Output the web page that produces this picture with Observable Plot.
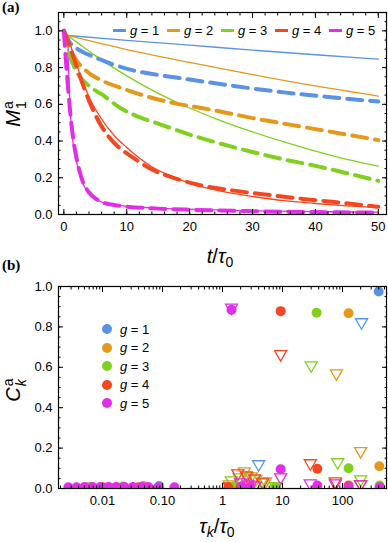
<!DOCTYPE html>
<html><head><meta charset="utf-8">
<script src="https://cdn.jsdelivr.net/npm/d3@7"></script>
<script src="https://cdn.jsdelivr.net/npm/@observablehq/plot@0.6"></script>
<style>
body{margin:0;background:#fff;font-family:"Liberation Sans",Arial,sans-serif;color:#000;}
#wrap{position:relative;width:388px;height:542px;overflow:hidden;background:#fff;}
.abs{position:absolute;white-space:nowrap;line-height:1;}
.panel{font-family:"Liberation Serif","DejaVu Serif",serif;font-weight:bold;font-size:15px;}
.lab{font-size:20px;}
.leg{font-size:13px;}
</style></head><body><div id="wrap"></div>
<script>
// ---------- shared ----------
const groups = ["1", "2", "3", "4", "5"];
const palette = ["#5a93e4", "#e5981a", "#80d11f", "#f4461f", "#e02fe6"];

// ---------- panel (a): M1^a vs t/tau0 ----------
// solid lines
const tSolidSlow = [0.6, 10, 20, 30, 40, 50];
const mSolid1 = [0.975, 0.948, 0.922, 0.895, 0.870, 0.846];
const mSolid2 = [0.975, 0.898, 0.828, 0.762, 0.700, 0.645];
const tSolid3 = [0.6, 2, 5, 10, 15, 20, 25, 30, 35, 40, 45, 50];
const mSolid3 = [0.975, 0.94, 0.865, 0.755, 0.66, 0.58, 0.51, 0.45, 0.395, 0.345, 0.30, 0.263];
const tSolid4 = [0.6, 2, 4, 6, 8, 10, 14, 18, 22, 26, 30, 35, 40, 45, 50];
const mSolid4 = [0.975, 0.82, 0.64, 0.52, 0.43, 0.365, 0.26, 0.195, 0.15, 0.12, 0.098, 0.075, 0.06, 0.047, 0.037];
const tSolid5 = [0.6, 0.8, 1.1, 1.5, 2, 2.5, 3, 4, 5, 6, 8, 10, 15, 20, 30, 40, 50];
const mSolid5 = [0.975, 0.75, 0.52, 0.38, 0.29, 0.22, 0.17, 0.115, 0.085, 0.068, 0.052, 0.045, 0.035, 0.029, 0.02, 0.016, 0.013];
// dashed lines
const tDash1 = [0, 1, 2, 3, 5, 8, 11, 15, 20, 27, 35, 42, 50];
const mDash1 = [1.0, 0.935, 0.905, 0.885, 0.855, 0.815, 0.785, 0.76, 0.735, 0.70, 0.665, 0.64, 0.615];
const tDash2 = [0, 1, 2, 4, 6, 9, 13, 17, 21, 25, 30, 35, 40, 45, 50];
const mDash2 = [1.0, 0.9, 0.84, 0.77, 0.73, 0.69, 0.645, 0.61, 0.585, 0.56, 0.525, 0.495, 0.465, 0.435, 0.405];
const tDash3 = [0, 1, 2, 4, 6, 9, 12, 15, 20, 25, 30, 35, 40, 45, 50];
const mDash3 = [1.0, 0.86, 0.78, 0.70, 0.655, 0.58, 0.53, 0.495, 0.435, 0.385, 0.34, 0.30, 0.265, 0.225, 0.183];
const tDash4 = [0, 1, 2, 3, 4, 6, 8, 11, 14, 17, 21, 27, 33, 38, 43, 50];
const mDash4 = [1.0, 0.91, 0.81, 0.71, 0.62, 0.48, 0.39, 0.31, 0.245, 0.205, 0.165, 0.13, 0.105, 0.085, 0.068, 0.042];
const tDash5 = [0, 0.3, 0.6, 1, 1.5, 2, 2.5, 3, 4, 5, 6, 8, 10, 15, 20, 30, 40, 50];
const mDash5 = [1.0, 0.85, 0.72, 0.56, 0.41, 0.31, 0.235, 0.18, 0.12, 0.088, 0.068, 0.052, 0.043, 0.032, 0.026, 0.018, 0.013, 0.01];
const xTicksA = [0, 10, 20, 30, 40, 50];
const yTicksA = [0, 0.2, 0.4, 0.6, 0.8, 1.0];

// ---------- panel (b): C_k^a vs tau_k/tau0 ----------
const tauCirc1 = [0.088, 400];
const cCirc1 = [0.012, 0.975];
const tauTri1 = [1.6, 4.0, 207];
const cTri1 = [0.01, 0.12, 0.823];
const tauCirc2 = [0.048, 126, 410];
const cCirc2 = [0.012, 0.868, 0.11];
const tauTri2 = [1.3, 2.3, 3.0, 5.2, 79, 200];
const cTri2 = [0.02, 0.085, 0.06, 0.035, 0.57, 0.185];
const tauCirc3 = [0.006, 0.022, 1.5, 7.6, 37, 126, 415];
const cCirc3 = [0.008, 0.01, 0.01, 0.008, 0.87, 0.1, 0.015];
const tauTri3 = [1.4, 1.9, 2.6, 3.6, 4.5, 7.6, 30, 83, 200];
const cTri3 = [0.04, 0.055, 0.06, 0.045, 0.035, 0.012, 0.61, 0.13, 0.045];
const tauCirc4 = [0.01, 0.04, 1.25, 2.0, 9.3, 38, 126];
const cCirc4 = [0.006, 0.006, 0.006, 0.006, 0.878, 0.098, 0.015];
const tauTri4 = [1.3, 1.8, 2.5, 3.4, 4.7, 9.3, 29, 76, 200];
const cTri4 = [0.01, 0.075, 0.065, 0.05, 0.03, 0.665, 0.125, 0.035, 0.022];
const tauCirc5 = [0.0027, 0.0037, 0.005, 0.0068, 0.0093, 0.0126, 0.017, 0.023, 0.032, 0.046, 0.058, 0.086, 0.158, 1.41, 2.1, 2.9, 9.3, 38, 126, 415];
const cCirc5 = [0.006, 0.006, 0.007, 0.007, 0.008, 0.008, 0.008, 0.008, 0.007, 0.007, 0.007, 0.006, 0.006, 0.885, 0.01, 0.008, 0.095, 0.015, 0.006, 0.006];
const tauTri5 = [1.41, 2.0, 2.7, 3.5, 9.3, 29, 76, 200];
const cTri5 = [0.895, 0.03, 0.02, 0.015, 0.055, 0.025, 0.025, 0.02];
const xTicksB = [0.01, 0.1, 1, 10, 100];
const xTickLabelsB = ["0.01", "0.10", "1", "10", "100"];
const yTicksB = [0, 0.2, 0.4, 0.6, 0.8, 1.0];

// ---------- build tables ----------
function rows(series, kx, ky) {
  return series.flatMap(([xs, ys], i) => xs.map((v, j) => ({[kx]: v, [ky]: ys[j], g: groups[i]})));
}
const solidRows = rows([[tSolidSlow, mSolid1], [tSolidSlow, mSolid2], [tSolid3, mSolid3], [tSolid4, mSolid4], [tSolid5, mSolid5]], "t", "m");
const dashRows = rows([[tDash1, mDash1], [tDash2, mDash2], [tDash3, mDash3], [tDash4, mDash4], [tDash5, mDash5]], "t", "m");
const circRows = rows([[tauCirc1, cCirc1], [tauCirc2, cCirc2], [tauCirc3, cCirc3], [tauCirc4, cCirc4], [tauCirc5, cCirc5]], "tau", "c");
const triRows = rows([[tauTri1, cTri1], [tauTri2, cTri2], [tauTri3, cTri3], [tauTri4, cTri4], [tauTri5, cTri5]], "tau", "c");

const font = {fontFamily: "'Liberation Sans', Arial, sans-serif", fontSize: "13px", color: "#000", background: "transparent", overflow: "visible"};
const minorLin = (a, b, s) => d3.range(a, b + s / 2, s);

function frameAxes(xMaj, xMin, yMaj, yMin, xFmt) {
  return [
    Plot.frame({stroke: "#000", strokeWidth: 1.2}),
    Plot.axisX({anchor: "bottom", ticks: xMaj, tickSize: 0, tickPadding: 7, label: null, tickFormat: xFmt}),
    Plot.axisX({anchor: "bottom", ticks: xMaj, tickSize: -5, fill: "none", label: null}),
    Plot.axisX({anchor: "bottom", ticks: xMin, tickSize: -2.5, fill: "none", label: null}),
    Plot.axisX({anchor: "top", ticks: xMaj, tickSize: -5, fill: "none", label: null}),
    Plot.axisX({anchor: "top", ticks: xMin, tickSize: -2.5, fill: "none", label: null}),
    Plot.axisY({anchor: "left", ticks: yMaj, tickSize: 0, tickPadding: 6, label: null, tickFormat: d3.format(".1f")}),
    Plot.axisY({anchor: "left", ticks: yMaj, tickSize: -5, fill: "none", label: null}),
    Plot.axisY({anchor: "left", ticks: yMin, tickSize: -2.5, fill: "none", label: null}),
    Plot.axisY({anchor: "right", ticks: yMaj, tickSize: -5, fill: "none", label: null}),
    Plot.axisY({anchor: "right", ticks: yMin, tickSize: -2.5, fill: "none", label: null})
  ];
}

const plotA = Plot.plot({
  width: 388, height: 270, marginLeft: 58, marginRight: 2, marginTop: 12, marginBottom: 56,
  style: font,
  x: {domain: [-0.85, 51.3]},
  y: {domain: [0, 1.1]},
  color: {domain: groups, range: palette},
  marks: [
    Plot.line(solidRows, {x: "t", y: "m", z: "g", stroke: "g", strokeWidth: 1.3, curve: "monotone-x", clip: true}),
    Plot.line(dashRows, {x: "t", y: "m", z: "g", stroke: "g", strokeWidth: 4, strokeDasharray: "15,8", curve: "monotone-x", clip: true}),
    ...frameAxes(xTicksA, minorLin(0, 50, 2), yTicksA, minorLin(0, 1.1, 0.05), d => String(d))
  ]
});

const minorLog = [];
for (let e = -3; e <= 2; e++) for (let k = 2; k <= 9; k++) minorLog.push(k * Math.pow(10, e));

const plotB = Plot.plot({
  width: 388, height: 272, marginLeft: 58, marginRight: 2, marginTop: 16, marginBottom: 54,
  style: font,
  x: {type: "log", domain: [0.00185, 540]},
  y: {domain: [0, 1]},
  color: {domain: groups, range: palette},
  marks: [
    Plot.dot(triRows, {x: "tau", y: "c", stroke: "g", symbol: "triangle", rotate: 180, r: 4.5, strokeWidth: 1.3, fill: "none", clip: true}),
    Plot.dot(circRows, {x: "tau", y: "c", fill: "g", r: 5, clip: true}),
    ...frameAxes(xTicksB, minorLog.filter(v => v > 0.00185 && v < 540), yTicksB, minorLin(0, 1, 0.05), d => xTickLabelsB[xTicksB.indexOf(d)])
  ]
});

const wrap = document.getElementById("wrap");
plotA.style.position = "absolute"; plotA.style.left = "0px"; plotA.style.top = "0px";
plotB.style.position = "absolute"; plotB.style.left = "0px"; plotB.style.top = "270px";
wrap.appendChild(plotA);
wrap.appendChild(plotB);

function addDiv(html, cls, css) {
  const d = document.createElement("div");
  d.className = "abs " + cls;
  d.innerHTML = html;
  Object.assign(d.style, css);
  wrap.appendChild(d);
  return d;
}
// panel labels
addDiv("(a)", "panel", {left: "2px", top: "0px"});
addDiv("(b)", "panel", {left: "2px", top: "258px"});
// axis titles
addDiv('<i>t</i>/<i>τ</i><span style="font-size:14px;position:relative;top:4px">0</span>', "lab", {left: "220px", top: "256px", transform: "translate(-50%,-50%)"});
addDiv('<i>τ</i><span style="font-size:14px;position:relative;top:4px;font-style:italic">k</span>/<i>τ</i><span style="font-size:14px;position:relative;top:4px">0</span>', "lab", {left: "217px", top: "526px", transform: "translate(-50%,-50%)"});
addDiv('<i>M</i><span style="display:inline-block;vertical-align:middle;font-size:14px;line-height:0.95;margin-left:1px;text-align:left"><span style="display:block">a</span><span style="display:block">1</span></span>', "lab", {left: "15px", top: "114px", transform: "translate(-50%,-50%) rotate(-90deg)"});
addDiv('<i>C</i><span style="display:inline-block;vertical-align:middle;font-size:14px;line-height:0.95;margin-left:1px;text-align:left"><span style="display:block">a</span><span style="display:block;font-style:italic">k</span></span>', "lab", {left: "15px", top: "390px", transform: "translate(-50%,-50%) rotate(-90deg)"});
// legend (a)
groups.forEach((g, i) => {
  const x0 = 113 + 54 * i;
  addDiv("", "", {left: x0 + "px", top: "29px", width: "13px", height: "3px", background: palette[i]});
  addDiv('<i>g</i> = ' + g, "leg", {left: (x0 + 17) + "px", top: "24px"});
});
// legend (b)
groups.forEach((g, i) => {
  const y0 = 329 + 18.5 * i;
  addDiv("", "", {left: "102px", top: (y0 - 5) + "px", width: "10px", height: "10px", borderRadius: "50%", background: palette[i]});
  addDiv('<i>g</i> = ' + g, "leg", {left: "120px", top: (y0 - 6.5) + "px"});
});
</script>
</body></html>
